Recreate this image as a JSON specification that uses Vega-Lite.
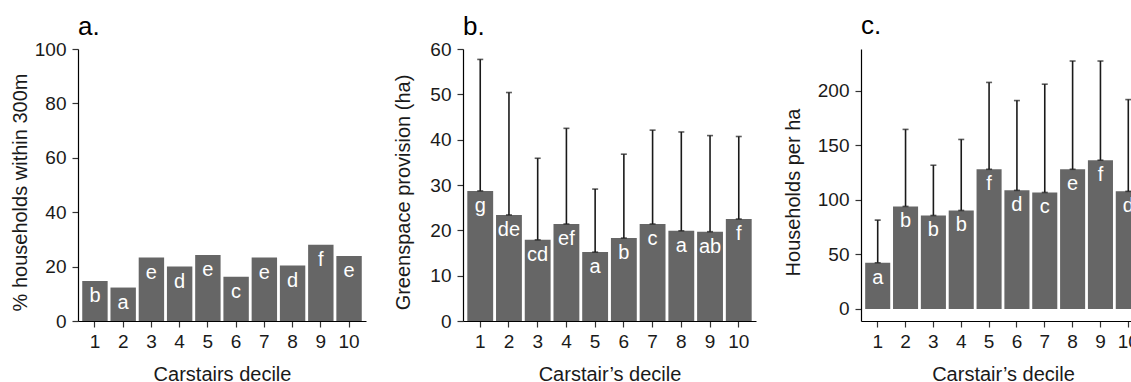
{
  "$schema": "https://vega.github.io/schema/vega-lite/v6.json",
  "padding": {"left": 9, "top": 13, "right": 0, "bottom": 0},
  "spacing": 26,
  "config": {
    "font": "Liberation Sans",
    "view": {"stroke": null},
    "axis": {
      "grid": false,
      "domainColor": "#000000",
      "domainWidth": 1.2,
      "tickColor": "#333333",
      "tickWidth": 1.2,
      "tickSize": 6,
      "labelFontSize": 19,
      "labelColor": "#1a1a1a",
      "labelPadding": 5,
      "labelFont": "Liberation Sans",
      "titleFont": "Liberation Sans",
      "titleFontSize": 20,
      "titleFontWeight": "normal",
      "titleColor": "#1a1a1a"
    },
    "axisX": {"labelAngle": 0, "titleY": 59, "titleBaseline": "alphabetic", "titleAlign": "center"},
    "axisY": {"titleBaseline": "alphabetic", "titleY": 143, "titleAlign": "center", "titleAngle": -90, "labelPadding": 6},
    "title": {"fontSize": 26, "fontWeight": "normal", "anchor": "start", "frame": "group", "color": "#000000", "font": "Liberation Sans", "baseline": "alphabetic"}
  },
  "datasets": {
    "a": [
      {"decile": 1, "value": 14.7, "label": "b"},
      {"decile": 2, "value": 12.3, "label": "a"},
      {"decile": 3, "value": 23.3, "label": "e"},
      {"decile": 4, "value": 20.0, "label": "d"},
      {"decile": 5, "value": 24.3, "label": "e"},
      {"decile": 6, "value": 16.3, "label": "c"},
      {"decile": 7, "value": 23.3, "label": "e"},
      {"decile": 8, "value": 20.4, "label": "d"},
      {"decile": 9, "value": 28.0, "label": "f"},
      {"decile": 10, "value": 23.9, "label": "e"}
    ],
    "b": [
      {"decile": 1, "mean": 28.7, "upper": 57.7, "label": "g"},
      {"decile": 2, "mean": 23.4, "upper": 50.4, "label": "de"},
      {"decile": 3, "mean": 17.9, "upper": 35.9, "label": "cd"},
      {"decile": 4, "mean": 21.4, "upper": 42.5, "label": "ef"},
      {"decile": 5, "mean": 15.2, "upper": 29.1, "label": "a"},
      {"decile": 6, "mean": 18.3, "upper": 36.8, "label": "b"},
      {"decile": 7, "mean": 21.4, "upper": 42.1, "label": "c"},
      {"decile": 8, "mean": 19.9, "upper": 41.7, "label": "a"},
      {"decile": 9, "mean": 19.7, "upper": 40.9, "label": "ab"},
      {"decile": 10, "mean": 22.5, "upper": 40.7, "label": "f"}
    ],
    "c": [
      {"decile": 1, "mean": 42.3, "upper": 81.3, "label": "a"},
      {"decile": 2, "mean": 93.9, "upper": 164.4, "label": "b"},
      {"decile": 3, "mean": 85.6, "upper": 131.6, "label": "b"},
      {"decile": 4, "mean": 90.2, "upper": 155.2, "label": "b"},
      {"decile": 5, "mean": 127.9, "upper": 207.4, "label": "f"},
      {"decile": 6, "mean": 108.6, "upper": 190.8, "label": "d"},
      {"decile": 7, "mean": 106.7, "upper": 205.8, "label": "c"},
      {"decile": 8, "mean": 127.9, "upper": 227.0, "label": "e"},
      {"decile": 9, "mean": 136.2, "upper": 227.0, "label": "f"},
      {"decile": 10, "mean": 107.7, "upper": 191.7, "label": "d"}
    ]
  },
  "hconcat": [
    {
      "width": 288,
      "height": 272,
      "title": {"text": "a.", "offset": 0},
      "data": {"name": "a"},
      "encoding": {
        "x": {"field": "decile", "type": "ordinal", "scale": {"paddingInner": 0.1, "paddingOuter": 0.15}, "axis": {"title": "Carstairs decile"}}
      },
      "layer": [
        {
          "mark": {"type": "bar", "color": "#666666"},
          "encoding": {
            "y": {"field": "value", "type": "quantitative", "scale": {"domain": [0, 100], "nice": false}, "axis": {"title": "% households within 300m", "values": [0, 20, 40, 60, 80, 100], "titleX": -52}}
          }
        },
        {
          "mark": {"type": "text", "color": "#ffffff", "fontSize": 20, "baseline": "alphabetic", "dy": 21, "font": "Liberation Sans"},
          "encoding": {
            "y": {"field": "value", "type": "quantitative"},
            "text": {"field": "label"}
          }
        }
      ]
    },
    {
      "width": 293,
      "height": 272,
      "title": {"text": "b.", "offset": 0},
      "data": {"name": "b"},
      "encoding": {
        "x": {"field": "decile", "type": "ordinal", "scale": {"paddingInner": 0.1, "paddingOuter": 0.15}, "axis": {"title": "Carstair’s decile"}}
      },
      "layer": [
        {
          "mark": {"type": "bar", "color": "#666666"},
          "encoding": {
            "y": {"field": "mean", "type": "quantitative", "scale": {"domain": [0, 60], "nice": false}, "axis": {"title": "Greenspace provision (ha)", "values": [0, 10, 20, 30, 40, 50, 60], "titleX": -54}}
          }
        },
        {
          "mark": {"type": "rule", "color": "#1a1a1a", "strokeWidth": 1.6},
          "encoding": {
            "y": {"field": "mean", "type": "quantitative"},
            "y2": {"field": "upper"}
          }
        },
        {
          "mark": {"type": "tick", "color": "#1a1a1a", "size": 6, "thickness": 1.6},
          "encoding": {"y": {"field": "upper", "type": "quantitative"}}
        },
        {
          "mark": {"type": "tick", "color": "#1a1a1a", "size": 6, "thickness": 1.6},
          "encoding": {"y": {"field": "mean", "type": "quantitative"}}
        },
        {
          "mark": {"type": "text", "color": "#ffffff", "fontSize": 20, "baseline": "alphabetic", "dy": 21, "font": "Liberation Sans"},
          "encoding": {
            "y": {"field": "mean", "type": "quantitative"},
            "text": {"field": "label"}
          }
        }
      ]
    },
    {
      "width": 284,
      "height": 272,
      "title": {"text": "c.", "offset": 10},
      "data": {"name": "c"},
      "encoding": {
        "x": {"field": "decile", "type": "ordinal", "scale": {"paddingInner": 0.1, "paddingOuter": 0.15}, "axis": {"title": "Carstair’s decile"}}
      },
      "layer": [
        {
          "mark": {"type": "bar", "color": "#666666"},
          "encoding": {
            "y": {"field": "mean", "type": "quantitative", "scale": {"domain": [-11, 238], "nice": false, "zero": false}, "axis": {"title": "Households per ha", "values": [0, 50, 100, 150, 200], "titleX": -62}}
          }
        },
        {
          "mark": {"type": "rule", "color": "#1a1a1a", "strokeWidth": 1.6},
          "encoding": {
            "y": {"field": "mean", "type": "quantitative"},
            "y2": {"field": "upper"}
          }
        },
        {
          "mark": {"type": "tick", "color": "#1a1a1a", "size": 6, "thickness": 1.6},
          "encoding": {"y": {"field": "upper", "type": "quantitative"}}
        },
        {
          "mark": {"type": "tick", "color": "#1a1a1a", "size": 6, "thickness": 1.6},
          "encoding": {"y": {"field": "mean", "type": "quantitative"}}
        },
        {
          "mark": {"type": "text", "color": "#ffffff", "fontSize": 20, "baseline": "alphabetic", "dy": 21, "font": "Liberation Sans"},
          "encoding": {
            "y": {"field": "mean", "type": "quantitative"},
            "text": {"field": "label"}
          }
        }
      ]
    }
  ]
}
